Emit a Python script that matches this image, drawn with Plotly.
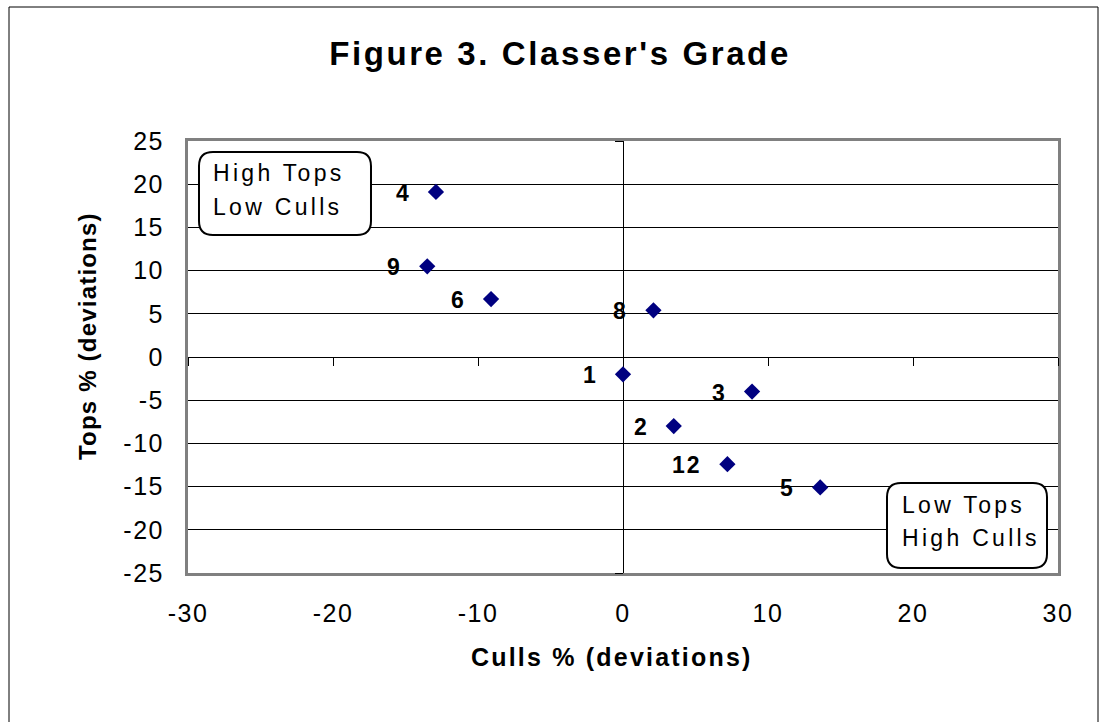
import plotly.graph_objects as go

# ---- data ----
point_labels = ["4", "9", "6", "8", "1", "3", "2", "12", "5"]
culls_dev = [-12.9, -13.5, -9.1, 2.1, 0.0, 8.9, 3.5, 7.2, 13.6]
tops_dev = [19.1, 10.5, 6.7, 5.4, -2.0, -4.0, -8.0, -12.4, -15.1]

x_tick_vals = [-30, -20, -10, 0, 10, 20, 30]
x_tick_text = ["-30", "-20", "-10", "0", "10", "20", "30"]
y_tick_vals = [-25, -20, -15, -10, -5, 0, 5, 10, 15, 20, 25]
y_tick_text = ["-25", "-20", "-15", "-10", "-5", "0", "5", "10", "15", "20", "25"]

title_text = "Figure 3. Classer's Grade"
x_title = "Culls % (deviations)"
y_title = "Tops % (deviations)"
box1_lines = ["High Tops", "Low Culls"]
box2_lines = ["Low Tops", "High Culls"]

# ---- layout geometry (pixels) ----
W, H = 1104, 722
L, R, T, B = 188, 1058, 141, 573
FONT = "Liberation Sans, Arial, sans-serif"


def px(x):
    return (x - L) / (R - L)


def py(y):
    return (B - y) / (B - T)


def sp(text, ls):
    return f'<span style="letter-spacing:{ls}px">{text}</span>'


def rounded_rect(x0, y0, x1, y1, r):
    pts = [
        ("M", [(x0 + r, y0)]),
        ("L", [(x1 - r, y0)]),
        ("Q", [(x1, y0), (x1, y0 + r)]),
        ("L", [(x1, y1 - r)]),
        ("Q", [(x1, y1), (x1 - r, y1)]),
        ("L", [(x0 + r, y1)]),
        ("Q", [(x0, y1), (x0, y1 - r)]),
        ("L", [(x0, y0 + r)]),
        ("Q", [(x0, y0), (x0 + r, y0)]),
    ]
    s = ""
    for cmd, pl in pts:
        s += cmd + " " + " ".join(f"{px(a):.5f},{py(b):.5f}" for a, b in pl) + " "
    return s + "Z"


fig = go.Figure()
fig.add_trace(go.Scatter(
    x=culls_dev, y=tops_dev, mode="markers",
    marker=dict(symbol="diamond", size=12.5, color="#000080", line=dict(width=0)),
    showlegend=False, hoverinfo="x+y",
))
# helper trace so the zero-crossing tick axes render
fig.add_trace(go.Scatter(x=[None], y=[None], xaxis="x2", yaxis="y2",
                         showlegend=False, hoverinfo="skip"))

annotations = []
for lab, xv, yv in zip(point_labels, culls_dev, tops_dev):
    annotations.append(dict(
        x=xv, y=yv, xref="x", yref="y", text="<b>" + sp(lab, 2) + "</b>",
        showarrow=False, xanchor="right", yanchor="middle", xshift=-23, yshift=-1,
        font=dict(family=FONT, size=23, color="black"),
    ))

# axis titles
annotations.append(dict(
    x=px(612), y=py(657), xref="paper", yref="paper",
    text="<b>" + sp(x_title, 2.2) + "</b>", showarrow=False,
    xanchor="center", yanchor="middle",
    font=dict(family=FONT, size=25, color="black"),
))
annotations.append(dict(
    x=px(87), y=py(336), xref="paper", yref="paper",
    text="<b>" + sp(y_title, 1.2) + "</b>", showarrow=False, textangle=-90,
    xanchor="center", yanchor="middle",
    font=dict(family=FONT, size=24, color="black"),
))

# box texts (one annotation per line to match the wide line spacing)
for i, t in enumerate(box1_lines):
    annotations.append(dict(
        x=px(211), y=py(173 + 34 * i), xref="paper", yref="paper",
        text=sp(t, 3.3), showarrow=False, xanchor="left", yanchor="middle",
        font=dict(family=FONT, size=23, color="black"),
    ))
for i, t in enumerate(box2_lines):
    annotations.append(dict(
        x=px(900), y=py(505 + 33 * i), xref="paper", yref="paper",
        text=sp(t, 3.3), showarrow=False, xanchor="left", yanchor="middle",
        font=dict(family=FONT, size=23, color="black"),
    ))

shapes = [
    dict(type="path", xref="paper", yref="paper", layer="above",
         path=rounded_rect(199, 152, 371, 235, 14),
         line=dict(color="black", width=2), fillcolor="white"),
    dict(type="path", xref="paper", yref="paper", layer="above",
         path=rounded_rect(887, 483, 1047, 568, 14),
         line=dict(color="black", width=2), fillcolor="white"),
    dict(type="rect", xref="paper", yref="paper", layer="above",
         x0=px(9), x1=px(1098), y0=py(7), y1=py(740),
         line=dict(color="black", width=1), fillcolor="rgba(0,0,0,0)"),
]

fig.update_layout(
    width=W, height=H,
    margin=dict(l=L, r=W - R, t=T, b=H - B, pad=0),
    paper_bgcolor="white", plot_bgcolor="white",
    font=dict(family=FONT, color="black"),
    title=dict(text="<b>" + sp(title_text, 2.6) + "</b>", x=560 / W, xanchor="center",
               y=1 - 53 / H, yanchor="middle", xref="container", yref="container",
               font=dict(family=FONT, size=33, color="black")),
    xaxis=dict(range=[-30, 30], tickvals=x_tick_vals,
               ticktext=[sp(t, 1.5) for t in x_tick_text],
               showgrid=False, zeroline=True, zerolinecolor="black", zerolinewidth=1,
               showline=True, mirror=True, linecolor="#808080", linewidth=3,
               ticks="", ticklabelstandoff=16,
               tickfont=dict(family=FONT, size=25, color="black"), fixedrange=True),
    yaxis=dict(range=[-25, 25], tickvals=y_tick_vals,
               ticktext=[sp(t, 1.5) for t in y_tick_text],
               showgrid=True, gridcolor="black", gridwidth=1,
               zeroline=True, zerolinecolor="black", zerolinewidth=1,
               showline=True, mirror=True, linecolor="#808080", linewidth=3,
               ticks="", ticklabelstandoff=16,
               tickfont=dict(family=FONT, size=25, color="black"), fixedrange=True),
    xaxis2=dict(overlaying="x", anchor="free", position=0.5, range=[-30, 30],
                tickvals=x_tick_vals, ticks="outside", ticklen=8, tickcolor="black",
                tickwidth=1, showticklabels=False, showgrid=False, zeroline=False,
                showline=False, fixedrange=True),
    yaxis2=dict(overlaying="y", anchor="free", position=0.5, range=[-25, 25],
                tickvals=y_tick_vals, ticks="outside", ticklen=8, tickcolor="black",
                tickwidth=1, showticklabels=False, showgrid=False, zeroline=False,
                showline=False, fixedrange=True),
    annotations=annotations,
    shapes=shapes,
)

fig.write_html("out.html", post_script="document.body.style.margin='0';",
               config={"displayModeBar": False})
